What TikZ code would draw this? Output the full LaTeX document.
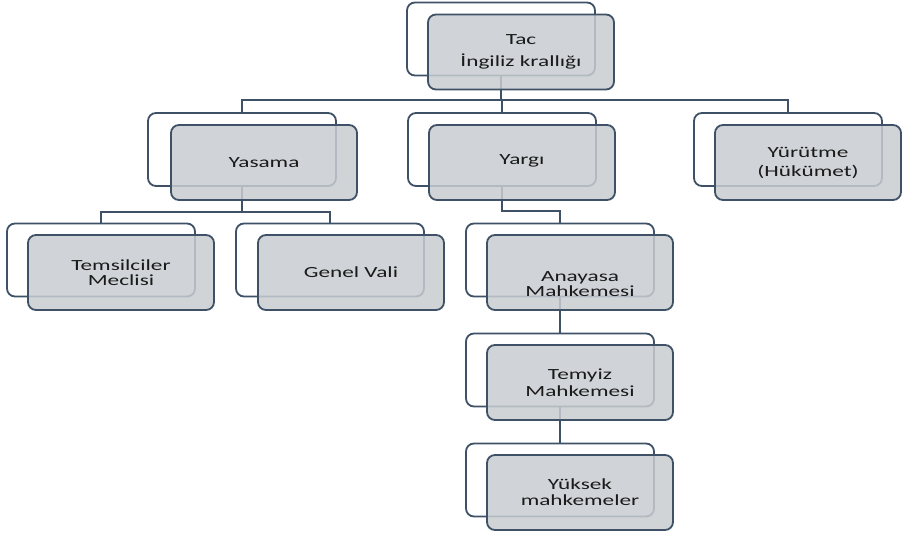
\documentclass[tikz,border=0pt]{standalone}
\usepackage{fontspec}
\setmainfont{Carlito}[FakeStretch=1.5]
\definecolor{edge}{HTML}{3E5166}
\definecolor{boxfill}{HTML}{C8CCD0}
\definecolor{txt}{HTML}{1A1A1A}
\begin{document}
\begin{tikzpicture}[x=1pt,y=-1pt,
  backbox/.style={draw=edge,line width=1.8pt,rounded corners=8pt,fill=white,minimum width=188pt,minimum height=73pt,inner sep=0pt},
  frontbox/.style={draw=edge,line width=1.8pt,rounded corners=8pt,fill=boxfill,fill opacity=0.85,text opacity=1,minimum width=186pt,minimum height=75pt,inner sep=0pt,align=center,text=txt,font=\fontsize{15.5}{16}\selectfont},
  lbl/.style={align=center,text=txt,font=\fontsize{15.5}{15}\selectfont,inner sep=0pt},
  conn/.style={draw=edge,line width=1.8pt}]
\useasboundingbox (0,0) rectangle (903,534);
% back boxes
\node[backbox] (tacB) at (501,39) {};
\node[backbox] (yasB) at (242,149.5) {};
\node[backbox] (yarB) at (502,149.5) {};
\node[backbox] (yurB) at (788,149.5) {};
\node[backbox] (temB) at (101,260) {};
\node[backbox] (genB) at (330,260) {};
\node[backbox] (anaB) at (560,260) {};
\node[backbox] (tmyB) at (560,370) {};
\node[backbox] (yukB) at (560,480) {};
% connectors
\coordinate (h1) at (502,100);
\coordinate (h2) at (242,212);
\coordinate (h3) at (560,211);
\draw[conn] (tacB.south) |- (h1);
\draw[conn] (yasB.north) |- (h1) -| (yurB.north);
\draw[conn] (h1) -- (yarB.north);
\draw[conn] (yasB.south) -- (h2);
\draw[conn] (temB.north) |- (h2) -| (genB.north);
\draw[conn] (yarB.south) |- (h3) -- (anaB.north);
\draw[conn] (anaB.south) -- (tmyB.north);
\draw[conn] (tmyB.south) -- (yukB.north);
% front boxes
\node[frontbox,font=\fontsize{15.5}{22}\selectfont] (tacF) at (521,52) {Tac\\İngiliz krallığı};
\node[frontbox] (yasF) at (264,162.5) {Yasama};
\node[frontbox] (yarF) at (522,162.5) {\raisebox{5pt}{Yargı}};
\node[frontbox,font=\fontsize{15.5}{19}\selectfont] (yurF) at (808,162.5) {Yürütme\\(Hükümet)};
\node[frontbox,font=\fontsize{15.5}{14.5}\selectfont] (temF) at (121,272.5) {Temsilciler\\Meclisi};
\node[frontbox] (genF) at (351,272.5) {Genel Vali};
\node[frontbox] (anaF) at (580,272.5) {};
\node[lbl] (anaT) at (580,284) {Anayasa\\Mahkemesi};
\node[frontbox,font=\fontsize{15.5}{17}\selectfont] (tmyF) at (580,382.5) {Temyiz\\Mahkemesi};
\node[frontbox] (yukF) at (580,492.5) {Yüksek\\mahkemeler};
\end{tikzpicture}
\end{document}
